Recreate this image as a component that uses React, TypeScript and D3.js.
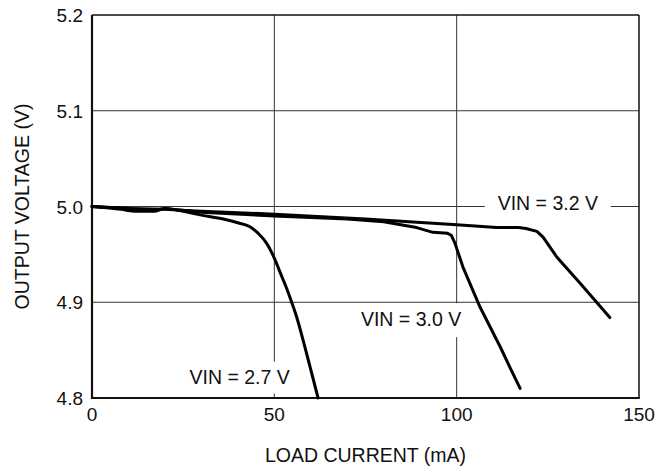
import React from "react";
import * as d3 from "d3";

const xTicks = [0, 50, 100, 150];
const yTicks = [4.8, 4.9, 5.0, 5.1, 5.2];

const current27 = [0, 8, 12, 17, 20, 22, 25, 30, 36, 40, 43.3, 45.6, 47.9, 49.4, 50.6, 51.7, 53.2, 54.8, 56.1, 58.4, 62];
const volts27 = [5.0, 4.997, 4.995, 4.995, 4.998, 4.997, 4.995, 4.991, 4.987, 4.983, 4.9789, 4.9719, 4.9615, 4.951, 4.9406, 4.9301, 4.9162, 4.8995, 4.8849, 4.853, 4.8];

const current30 = [0, 10, 17, 20, 30, 50, 70, 80, 89, 93.5, 97.5, 98.5, 99.5, 101.7, 106.4, 112, 114.6, 117.4];
const volts30 = [5.0, 4.998, 4.996, 4.998, 4.994, 4.990, 4.987, 4.984, 4.978, 4.973, 4.972, 4.970, 4.962, 4.937, 4.895, 4.853, 4.832, 4.810];

const current32 = [0, 10, 20, 30, 50, 75, 100, 111, 117, 119, 122, 123.7, 127.5, 133.8, 142];
const volts32 = [5.0, 4.998, 4.997, 4.995, 4.992, 4.987, 4.981, 4.978, 4.978, 4.977, 4.974, 4.968, 4.947, 4.920, 4.884];

const seriesLabels = ["VIN = 2.7 V", "VIN = 3.0 V", "VIN = 3.2 V"];
const labelCurrent = [40.5, 87.5, 125];
const labelVolts = [4.815, 4.875, 4.996];

const W = 663, H = 468;
const L = 92, T = 15, R = 639, B = 398;
const font = "Liberation Sans, Arial, Helvetica, sans-serif";

export default function App() {
  const x = d3.scaleLinear().domain([0, 150]).range([L, R]);
  const y = d3.scaleLinear().domain([4.8, 5.2]).range([B, T]);

  const mk = (cs: number[], vs: number[], curve: d3.CurveFactory) =>
    d3.line<number>().x((_, i) => x(cs[i])).y((_, i) => y(vs[i])).curve(curve)(cs) || "";

  const paths = [
    mk(current27, volts27, d3.curveMonotoneX),
    mk(current30, volts30, d3.curveLinear),
    mk(current32, volts32, d3.curveLinear),
  ];

  const labelW = [112, 112, 126];
  const labelH = [32, 34, 24];

  return (
    <svg width={W} height={H} style={{ position: "absolute", left: 0, top: 0, background: "#fff" }} fontFamily={font}>
      <rect x={0} y={0} width={W} height={H} fill="#fff" />
      {xTicks.slice(1, -1).map((t) => (
        <line key={"gx" + t} x1={x(t)} x2={x(t)} y1={T} y2={B} stroke="#333" strokeWidth={1} />
      ))}
      {yTicks.slice(1, -1).map((t) => (
        <line key={"gy" + t} x1={L} x2={R} y1={y(t)} y2={y(t)} stroke="#333" strokeWidth={1} />
      ))}
      {seriesLabels.map((s, i) => (
        <rect key={"lb" + i} x={x(labelCurrent[i]) - labelW[i] / 2} y={y(labelVolts[i]) - labelH[i] / 2 - 6}
          width={labelW[i]} height={labelH[i]} fill="#fff" />
      ))}
      {seriesLabels.map((s, i) => (
        <text key={"lt" + i} x={x(labelCurrent[i])} y={y(labelVolts[i])} textAnchor="middle" fontSize={19.5} fill="#111">
          {s}
        </text>
      ))}
      <line x1={L} x2={R} y1={T} y2={T} stroke="#111" strokeWidth={1.5} />
      <line x1={R} x2={R} y1={T} y2={B} stroke="#111" strokeWidth={1.5} />
      <line x1={L} x2={L} y1={T} y2={B + 1} stroke="#111" strokeWidth={2.2} />
      <line x1={L - 1} x2={R + 0.75} y1={B} y2={B} stroke="#111" strokeWidth={2.2} />
      {paths.map((p, i) => (
        <path key={"c" + i} d={p} fill="none" stroke="#000" strokeWidth={3} strokeLinejoin="round" strokeLinecap="round" />
      ))}
      {xTicks.map((t) => (
        <text key={"xt" + t} x={x(t)} y={B + 23} textAnchor="middle" fontSize={19} fill="#111">{t}</text>
      ))}
      {yTicks.map((t) => (
        <text key={"yt" + t} x={L - 9} y={y(t) + 7} textAnchor="end" fontSize={19} fill="#111">{t.toFixed(1)}</text>
      ))}
      <text x={(L + R) / 2} y={462} textAnchor="middle" fontSize={19.5} fill="#111">LOAD CURRENT (mA)</text>
      <text transform={`translate(29,${(T + B) / 2}) rotate(-90)`} textAnchor="middle" fontSize={19.5} fill="#111">OUTPUT VOLTAGE (V)</text>
    </svg>
  );
}
